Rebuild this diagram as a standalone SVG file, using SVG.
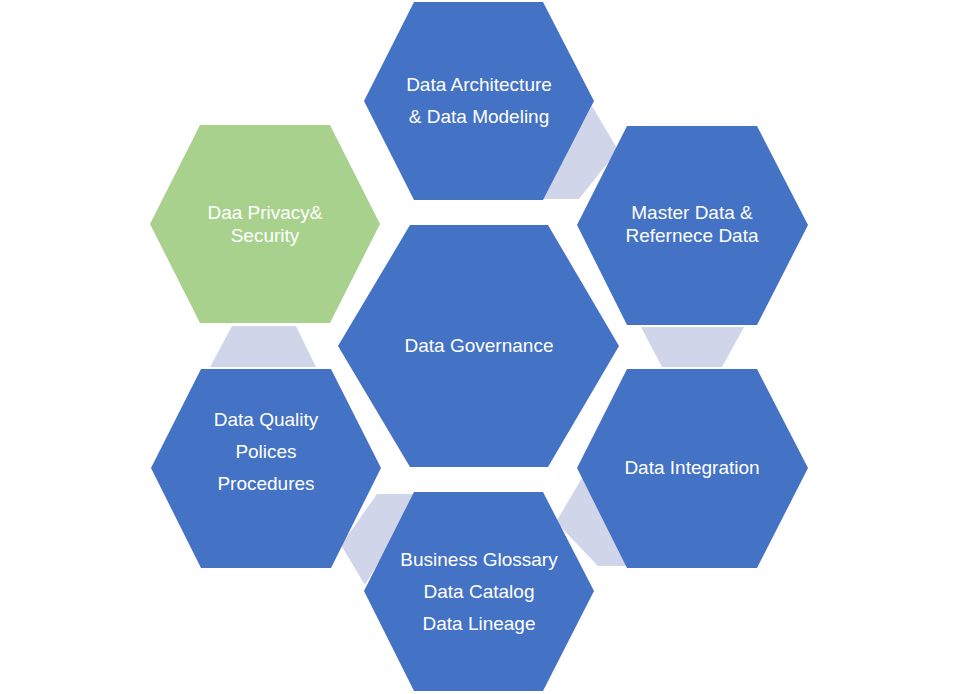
<svg xmlns="http://www.w3.org/2000/svg" width="957" height="694" viewBox="0 0 957 694">
<style>
.h{fill:#4472C4}.g{fill:#A9D18E}.c{fill:#D0D5EA}
text{font-family:"Liberation Sans",Arial,sans-serif;font-size:19px;fill:#fff;text-anchor:middle}
</style>
<rect width="957" height="694" fill="#fff"/>
<g id="connectors">
<polygon class="c" points="592,106 618,150 579,199 540,199"/>
<polygon class="c" points="641,327 744,327 722,367 662,367"/>
<polygon class="c" points="582,478 630,566 598,566 556,522"/>
<polygon class="c" points="377,494 419,494 365,585 341,545"/>
<polygon class="c" points="232,326 296,326 316,367 210,367"/>
</g>
<g id="arch"><polygon class="h" points="364,101 414,2 543,2 594,101 543,200 414,200"/><text x="479" y="91">Data Architecture</text><text x="479" y="123">&amp; Data Modeling</text></g>
<g id="master"><polygon class="h" points="577,225 627,126 757,126 808,225 757,325 627,325"/><text x="692" y="219">Master Data &amp;</text><text x="692" y="242">Refernece  Data</text></g>
<g id="integration"><polygon class="h" points="577,468 627,369 757,369 808,468 757,568 627,568"/><text x="692" y="474">Data Integration</text></g>
<g id="glossary"><polygon class="h" points="364,591 414,492 543,492 594,591 543,691 414,691"/><text x="479" y="566">Business Glossary</text><text x="479" y="598">Data Catalog</text><text x="479" y="630">Data Lineage</text></g>
<g id="quality"><polygon class="h" points="151,468 201,369 331,369 381,468 331,568 201,568"/><text x="266" y="426">Data Quality</text><text x="266" y="458">Polices</text><text x="266" y="490">Procedures</text></g>
<g id="privacy"><polygon class="g" points="150,224 200,125 330,125 380,224 330,323 200,323"/><text x="265" y="219">Daa Privacy&amp;</text><text x="265" y="242">Security</text></g>
<g id="governance"><polygon class="h" points="338,346 410,225 548,225 619,346 548,467 410,467"/><text x="479" y="352">Data Governance</text></g>
</svg>
